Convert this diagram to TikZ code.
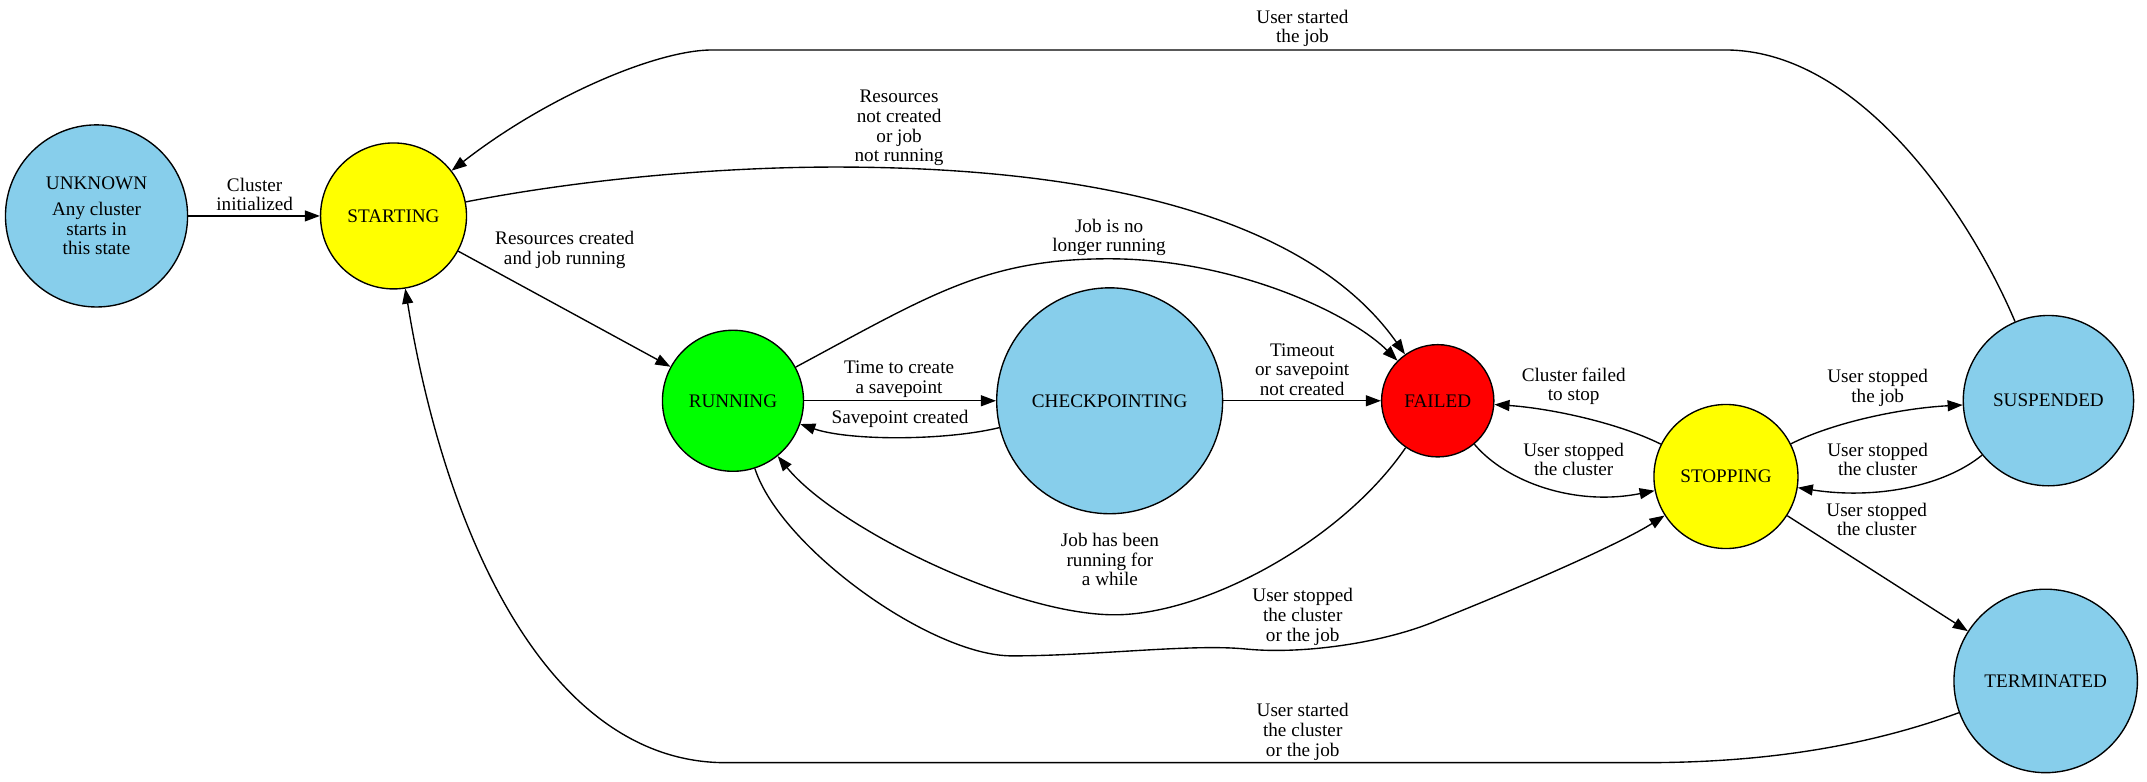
\documentclass[tikz,border=0pt]{standalone}
\usepackage{fontspec}
\setmainfont{Liberation Serif}
\usepackage{tikz}
\usetikzlibrary{shapes.geometric, arrows.meta}
\definecolor{skyblue}{HTML}{87CEEB}
\definecolor{stateyellow}{HTML}{FFFF00}
\definecolor{stategreen}{HTML}{00FF00}
\definecolor{statered}{HTML}{FF0000}
\tikzstyle{state} = [circle, draw=black, line width=1bp, inner sep=0pt, text centered, font=\fontsize{14bp}{14.4bp}\selectfont]
\tikzstyle{edgetext} = [align=center, inner sep=0pt, font=\fontsize{14bp}{14.4bp}\selectfont]
\tikzstyle{arrow} = [line width=1bp, ->, >={Triangle[length=11bp,width=8bp]}]

\begin{document}
\begin{tikzpicture}[x=1bp, y=-1bp]
	\useasboundingbox (0,0) rectangle (1568,570.4);
	\node (unknown) [state, fill=skyblue, minimum size=133bp, align=center] at (70.5,157.7) {UNKNOWN\\[4.5bp]Any cluster\\starts in\\this state};
	\node (starting) [state, fill=stateyellow, minimum size=106.6bp] at (287.4,157.7) {STARTING};
	\node (running) [state, fill=stategreen, minimum size=103bp] at (535.3,292.7) {RUNNING};
	\node (checkpointing) [state, fill=skyblue, minimum size=165bp] at (810.4,292.7) {CHECKPOINTING};
	\node (failed) [state, fill=statered, minimum size=82bp] at (1050,292.7) {FAILED};
	\node (stopping) [state, fill=stateyellow, minimum size=105.2bp] at (1260.5,348) {STOPPING};
	\node (suspended) [state, fill=skyblue, minimum size=124.4bp] at (1496,292.6) {SUSPENDED};
	\node (terminated) [state, fill=skyblue, minimum size=134bp] at (1494,497.3) {TERMINATED};
	% edge texts
	\node (tInit) [edgetext] at (186,142) {Cluster\\initialized};
	\node (tNotCreated) [edgetext] at (656.6,93.5) {Resources\\not created\\or job\\not running};
	\node (tCreated) [edgetext] at (412.4,182.6) {Resources created\\and job running};
	\node (tNoLonger) [edgetext] at (810,173.4) {Job is no\\longer running};
	\node (tTimeTo) [edgetext] at (656.6,277) {Time to create\\a savepoint};
	\node (tSaved) [edgetext] at (657.3,306) {Savepoint created};
	\node (tTimeout) [edgetext] at (951,269.9) {Timeout\\or savepoint\\not created};
	\node (tWhile) [edgetext] at (810.6,408.7) {Job has been\\running for\\a while};
	\node (tStopRun) [edgetext] at (951.4,450.6) {User stopped\\the cluster\\or the job};
	\node (tFailStop) [edgetext] at (1149.3,282.2) {Cluster failed\\to stop};
	\node (tStopFail) [edgetext] at (1149.3,335.5) {User stopped\\the cluster};
	\node (tStopJob) [edgetext] at (1371.3,283.2) {User stopped\\the job};
	\node (tStopSusp) [edgetext] at (1371.3,335.5) {User stopped\\the cluster};
	\node (tStopTerm) [edgetext] at (1370.6,379.4) {User stopped\\the cluster};
	\node (tStartTerm) [edgetext] at (951.4,534.6) {User started\\the cluster\\or the job};
	\node (tStartSusp) [edgetext] at (951.2,20.7) {User started\\the job};
	% transitions
	\draw [arrow] (unknown) -- (starting);
	\draw [arrow] (starting) -- (running);
	\draw [arrow] (starting) .. controls (430,130) and (530,122) .. (610,122) .. controls (800,122) and (955,158) .. (failed);
	\draw [arrow] (running) -- (checkpointing);
	\draw [arrow] (checkpointing) .. controls (690,322) and (620,322) .. (running);
	\draw [arrow] (running) .. controls (680,215) and (720,189) .. (810,189) .. controls (900,189) and (985,228) .. (failed);
	\draw [arrow] (checkpointing) -- (failed);
	\draw [arrow] (failed) .. controls (980,395) and (880,449) .. (814,449) .. controls (740,449) and (610,385) .. (running);
	\draw [arrow] (running) .. controls (570,400) and (680,479) .. (739,479) .. controls (800,479) and (870,470) .. (910,474) .. controls (950,478) and (1010,470) .. (1050,453) .. controls (1120,425) and (1185,396) .. (stopping);
	\draw [arrow] (failed) .. controls (1100,352) and (1150,370) .. (stopping);
	\draw [arrow] (stopping) .. controls (1180,308) and (1130,298) .. (failed);
	\draw [arrow] (stopping) .. controls (1340,308) and (1390,298) .. (suspended);
	\draw [arrow] (suspended) .. controls (1420,355) and (1370,365) .. (stopping);
	\draw [arrow] (stopping) -- (terminated);
	\draw [arrow] (terminated) .. controls (1350,550) and (1270,557) .. (1200,557) -- (530,557) .. controls (400,557) and (325,390) .. (starting);
	\draw [arrow] (suspended) .. controls (1440,160) and (1360,36.5) .. (1260,36.5) -- (520,36.5) .. controls (480,36.5) and (400,70) .. (starting);
\end{tikzpicture}
\end{document}
